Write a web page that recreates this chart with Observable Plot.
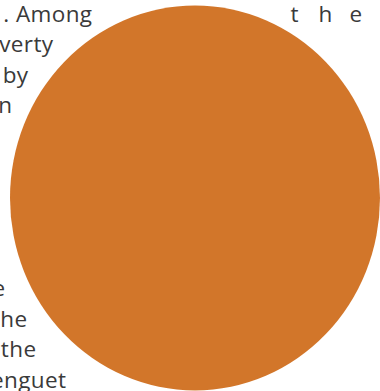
<!DOCTYPE html>
<html>
<head>
<meta charset="utf-8">
<script src="https://cdn.jsdelivr.net/npm/d3@7"></script>
<script src="https://cdn.jsdelivr.net/npm/@observablehq/plot@0.6"></script>
<style>
  html, body { margin: 0; padding: 0; background: #fff; overflow: hidden; }
  svg { display: block; }
</style>
</head>
<body>
<div id="chart"></div>
<script>
// Data
const categories = ["Benguet"];
const values = [100];

// Text fragments of the surrounding paragraph (line number, text, right end)
const lineText = [". Among", "verty", "by", "n", "e", "he", "the", "enguet"];
const lineNumber = [0, 1, 2, 3, 9, 10, 11, 12];
const lineEnd = [92, 53, 28, 12, 5, 27, 36, 66];

// Justified word on the right of the first line
const spacedLetters = ["t", "h", "e"];
const spacedStart = [290, 318, 349];

const circleData = categories.map((c, i) => ({category: c, value: values[i]}));
const lines = lineText.map((t, i) => ({text: t, line: lineNumber[i], end: lineEnd[i]}));
const letters = spacedLetters.map((t, i) => ({text: t, line: 0, start: spacedStart[i]}));

const textStyle = {
  fontSize: 22.5,
  fill: "#3a3a3a",
  lineAnchor: "bottom"
};

const chart = Plot.plot({
  width: 380,
  height: 391,
  margin: 0,
  x: {domain: [0, 380], range: [0, 380], axis: null},
  y: {domain: [0, 12], range: [21, 387], axis: null},
  r: {type: "sqrt", domain: [0, 100], range: [0, 185]},
  style: {fontFamily: "'Open Sans', sans-serif", background: "#fff", letterSpacing: "0.4px"},
  marks: [
    Plot.text(lines, {x: "end", y: "line", text: "text", textAnchor: "end", ...textStyle}),
    Plot.text(letters, {x: "start", y: "line", text: "text", textAnchor: "start", ...textStyle}),
    Plot.dot(circleData, {r: "value", frameAnchor: "middle", dx: 4.5, dy: 2, fill: "#D2762A", stroke: "none"})
  ]
});

// The source's disc is slightly taller than wide
d3.select(chart).selectAll("circle").each(function () {
  const el = d3.select(this);
  const cx = +el.attr("cx") || 0, cy = +el.attr("cy") || 0;
  const tr = el.attr("transform") || "";
  el.attr("transform", tr + ` translate(${cx},${cy}) scale(1,1.04) translate(${-cx},${-cy})`);
});

document.getElementById("chart").appendChild(chart);
</script>
</body>
</html>
